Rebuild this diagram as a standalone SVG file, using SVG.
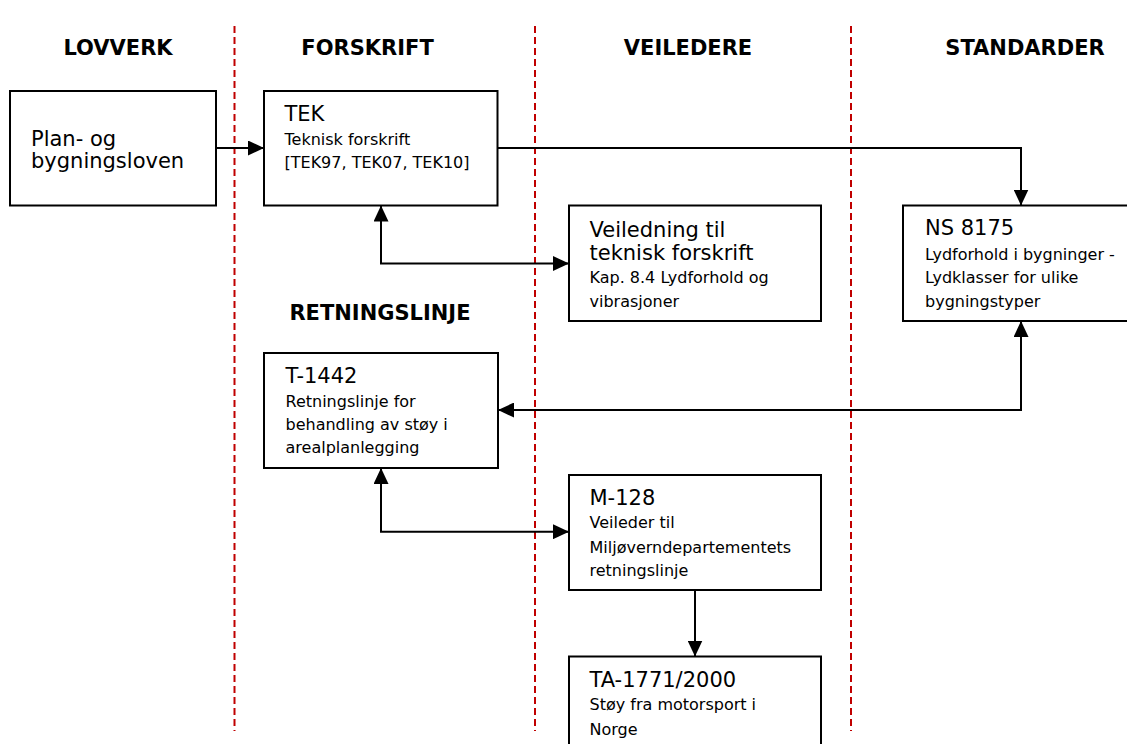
<svg xmlns="http://www.w3.org/2000/svg" width="1127" height="744" viewBox="0 0 1127 744">
<style>
.bg{fill:#ffffff}
.hdr{font-family:"DejaVu Sans",Verdana,sans-serif;font-weight:bold;font-size:21px;fill:#000;text-anchor:middle}
.box{fill:#fff;stroke:#000;stroke-width:2}
.t{font-family:"DejaVu Sans",Verdana,sans-serif;font-size:21px;fill:#000}
.s{font-family:"DejaVu Sans",Verdana,sans-serif;font-size:16px;fill:#000}
.lane{stroke:#c00000;stroke-width:2;stroke-dasharray:7 4;fill:none}
.c{fill:none;stroke:#000;stroke-width:2}
</style>
<defs>
<marker id="ah" markerUnits="userSpaceOnUse" markerWidth="16" markerHeight="15" refX="16" refY="7.5" orient="auto-start-reverse" viewBox="0 0 16 15">
<path d="M0,0 L16,7.5 L0,15 z" fill="#000"/>
</marker>
</defs>
<rect class="bg" x="0" y="0" width="1127" height="744"/>
<g id="lanes">
<line class="lane" x1="234.5" y1="26" x2="234.5" y2="731"/>
<line class="lane" x1="535" y1="26" x2="535" y2="731"/>
<line class="lane" x1="851" y1="26" x2="851" y2="731"/>
</g>
<g id="headers">
<text class="hdr" x="118" y="55">LOVVERK</text>
<text class="hdr" x="367.5" y="55">FORSKRIFT</text>
<text class="hdr" x="688" y="55">VEILEDERE</text>
<text class="hdr" x="1025" y="55">STANDARDER</text>
<text class="hdr" x="380" y="320">RETNINGSLINJE</text>
</g>
<g id="connectors">
<path class="c" d="M216,148 H264" marker-end="url(#ah)"/>
<path class="c" d="M497.5,148 H1021 V205.5" marker-end="url(#ah)"/>
<path class="c" d="M381,205.5 V263.5 H569" marker-start="url(#ah)" marker-end="url(#ah)"/>
<path class="c" d="M1021,321 V410 H498" marker-start="url(#ah)" marker-end="url(#ah)"/>
<path class="c" d="M381,468 V531.7 H569" marker-start="url(#ah)" marker-end="url(#ah)"/>
<path class="c" d="M695,590 V656.5" marker-end="url(#ah)"/>
</g>
<g id="plan">
<rect class="box" x="10" y="91" width="206" height="114.5"/>
<text class="t" x="31" y="145.7">Plan- og</text>
<text class="t" x="31" y="168.3">bygningsloven</text>
</g>
<g id="tek">
<rect class="box" x="264" y="91" width="233.5" height="114.5"/>
<text class="t" x="284.5" y="120.7">TEK</text>
<text class="s" x="284.5" y="145">Teknisk forskrift</text>
<text class="s" x="284.5" y="168.3">[TEK97, TEK07, TEK10]</text>
</g>
<g id="veiledning">
<rect class="box" x="569" y="205.5" width="252" height="115.5"/>
<text class="t" x="589.5" y="236.7">Veiledning til</text>
<text class="t" x="589.5" y="260">teknisk forskrift</text>
<text class="s" x="589.5" y="283.3">Kap. 8.4 Lydforhold og</text>
<text class="s" x="589.5" y="307.3">vibrasjoner</text>
</g>
<g id="ns8175">
<rect class="box" x="903" y="205.5" width="240" height="115.5"/>
<text class="t" x="925" y="235">NS 8175</text>
<text class="s" x="925" y="260">Lydforhold i bygninger -</text>
<text class="s" x="925" y="283.3">Lydklasser for ulike</text>
<text class="s" x="925" y="306.7">bygningstyper</text>
</g>
<g id="t1442">
<rect class="box" x="264" y="353" width="234" height="115"/>
<text class="t" x="285.5" y="382.7">T-1442</text>
<text class="s" x="285.5" y="406.7">Retningslinje for</text>
<text class="s" x="285.5" y="430">behandling av støy i</text>
<text class="s" x="285.5" y="453.3">arealplanlegging</text>
</g>
<g id="m128">
<rect class="box" x="569" y="475" width="252" height="115"/>
<text class="t" x="589.5" y="505">M-128</text>
<text class="s" x="589.5" y="528.3">Veileder til</text>
<text class="s" x="589.5" y="552.7">Miljøverndepartementets</text>
<text class="s" x="589.5" y="576">retningslinje</text>
</g>
<g id="ta1771">
<rect class="box" x="569" y="656.5" width="252" height="115"/>
<text class="t" x="589.5" y="686.7">TA-1771/2000</text>
<text class="s" x="589.5" y="710">Støy fra motorsport i</text>
<text class="s" x="589.5" y="735">Norge</text>
</g>
</svg>
